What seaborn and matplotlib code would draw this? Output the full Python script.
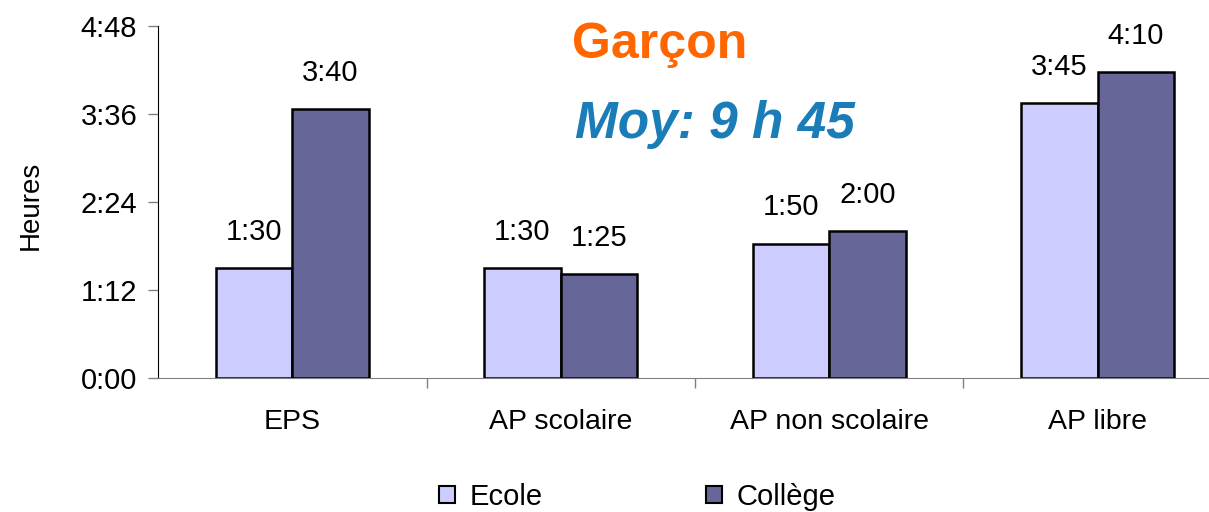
import pandas as pd
import matplotlib.pyplot as plt
import seaborn as sns
from matplotlib.ticker import FuncFormatter, FixedLocator

# data (minutes)
activites = ["EPS", "AP scolaire", "AP non scolaire", "AP libre"]
ecole = [90, 90, 110, 225]
college = [220, 85, 120, 250]
niveaux = ["Ecole", "Collège"]
couleurs = ["#CCCCFF", "#666699"]

df = pd.DataFrame({
    "Activité": activites * 2,
    "Niveau": [niveaux[0]] * 4 + [niveaux[1]] * 4,
    "Minutes": ecole + college,
})


def hmm(v, pos=None):
    v = int(round(v))
    return f"{v // 60}:{v % 60:02d}"


sns.set_style("white")
plt.rcParams["font.family"] = ["Liberation Sans", "DejaVu Sans"]
plt.rcParams["text.color"] = "black"
plt.rcParams["axes.labelcolor"] = "black"
plt.rcParams["xtick.labelcolor"] = "black"
plt.rcParams["ytick.labelcolor"] = "black"

fig = plt.figure(figsize=(12.09, 5.12), dpi=100)
ax = fig.add_axes([158 / 1209, 134 / 512, 1074 / 1209, 352 / 512])

sns.barplot(data=df, x="Activité", y="Minutes", hue="Niveau", palette=couleurs,
            width=0.57, edgecolor="black", linewidth=1.8, saturation=1, ax=ax)

for cont in ax.containers:
    vals = [b.get_height() for b in cont]
    ax.bar_label(cont, labels=[hmm(v) for v in vals], padding=16, fontsize=21, color="black")

ax.set_ylim(0, 288)
ax.set_xlim(-0.5, 3.5)
ax.yaxis.set_major_locator(FixedLocator([0, 72, 144, 216, 288]))
ax.yaxis.set_major_formatter(FuncFormatter(hmm))
ax.tick_params(axis="y", left=True, length=7, width=1, labelsize=21, pad=8, color="#808080")
ax.tick_params(axis="x", which="major", length=0, labelsize=20.5, pad=22)
ax.set_xticks([0.5, 1.5, 2.5], minor=True)
ax.tick_params(axis="x", which="minor", bottom=True, length=7, width=1, color="#808080")

ax.set_xlabel("")
ax.set_ylabel("Heures", fontsize=20)
ax.yaxis.set_label_coords(-0.106, 0.49)
for s in ["top", "right"]:
    ax.spines[s].set_visible(False)
ax.spines["left"].set_color("black")
ax.spines["bottom"].set_color("#808080")

ax.get_legend().remove()
handles = [plt.Rectangle((0, 0), 1, 1, facecolor=c, edgecolor="black", lw=1.5) for c in couleurs]
fig.legend(handles, niveaux, loc="center", bbox_to_anchor=(0.527, 0.03), ncol=2,
           frameon=False, fontsize=21, handlelength=0.55, handleheight=0.55,
           handletextpad=0.5, columnspacing=5.6, borderpad=0.1)

fig.text(660 / 1209, 1 - 58 / 512, "Garçon", color="#FF6600", fontsize=36,
         fontweight="bold", ha="center", va="baseline")
fig.text(715 / 1209, 1 - 138 / 512, "Moy: 9 h 45", color="#1A7DB8", fontsize=37,
         fontweight="bold", fontstyle="italic", ha="center", va="baseline")

fig.savefig("out.png", dpi=100)
